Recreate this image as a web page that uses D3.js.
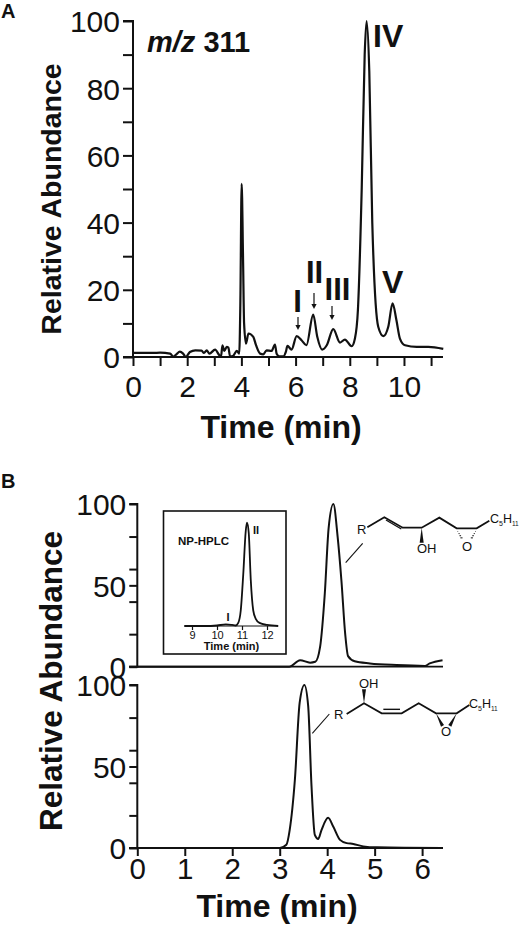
<!DOCTYPE html>
<html><head><meta charset="utf-8">
<script src="https://cdn.jsdelivr.net/npm/d3@7"></script>
<style>html,body{margin:0;padding:0;background:#fff}svg{display:block}text{font-family:"Liberation Sans",Arial,sans-serif;fill:#111}</style>
</head><body><svg id="c" width="519" height="925"></svg>
<script>
// Panel A: m/z 311 chromatogram
const timeA=[0,0.75,1,1.37,1.49,1.6,1.73,1.85,1.95,2.1,2.3,2.53,2.62,2.72,2.82,3.03,3.19,3.25,3.3,3.37,3.46,3.52,3.58,3.7,3.83,3.92,3.96,4.01,4.06,4.1,4.17,4.26,4.44,4.54,4.69,4.81,4.93,5.11,5.24,5.3,5.4,5.55,5.64,5.7,5.85,6.04,6.22,6.4,6.65,6.8,6.98,7.15,7.39,7.64,7.82,8.07,8.19,8.3,8.44,8.55,8.62,8.72,8.83,9.05,9.24,9.42,9.58,9.72,9.85,10.04,10.47,10.9,11.45];
const valueA=[1.2,1.2,1.3,1,0.1,0.8,1.6,1,0,1.5,2,1.9,1.2,2,1,2.2,0.5,0.2,3.5,1.8,3,2.8,0.2,0.4,1.8,1,15,51.5,30,10,4,7,6,3.5,1,0.8,2,1.8,3.7,1,0.2,0.2,1.5,3.3,2.2,6.2,5,3.5,12.6,6,2.2,3.5,8.3,4.3,5.2,3.2,5.5,14,50,90,100,85,40,9,6.2,9,16,11,5.5,3.5,3,3,2.4];
const xTicksA=[0,2,4,6,8,10], xMinorA=[1,3,5,7,9,11], yTicksA=[0,20,40,60,80,100], yMinorA=[10,30,50,70,90];
// Panel B top
const timeB1=[0,3.2,3.43,3.64,3.75,3.85,3.95,4.03,4.13,4.22,4.3,4.38,4.44,4.58,4.9,5.46,6.06,6.16,6.43];
const valueB1=[0,0,4,2.5,3,12,45,85,100,80,53,20,6.5,3.3,2,1,0.5,2,4];
// Panel B bottom
const timeB2=[0,3,3.14,3.21,3.32,3.42,3.52,3.6,3.67,3.74,3.81,3.88,4.02,4.13,4.27,4.41,4.55,4.76,5.05,6.42];
const valueB2=[0,0,2,11,42,89,100,87,38,8,5.5,11,18.5,13,5,3,2.5,1,0.4,0];
const yTicksB=[0,50,100], yMinorB=[20,40,60,80], xTicksB=[0,1,2,3,4,5,6];
// Inset NP-HPLC
const timeI=[8.7,9.5,10,10.35,10.6,10.75,10.85,10.95,11.05,11.15,11.2,11.27,11.35,11.45,11.55,11.7,12,12.45];
const valueI=[0,0,0.5,1.5,1,0.5,3,15,50,92,100,90,45,15,7,3,1,0];
const xTicksI=[9,10,11,12];

const ink="#111";
const svg=d3.select("#c");
const txt=(x,y,s,fs,o={})=>svg.append("text").attr("x",x).attr("y",y).attr("font-size",fs)
  .attr("font-weight",o.w||"normal").attr("text-anchor",o.a||"start").attr("transform",o.t||null).text(s);
const hline=(p,x1,y1,x2,y2,w)=>p.append("line").attr("x1",x1).attr("y1",y1).attr("x2",x2).attr("y2",y2).attr("stroke",ink).attr("stroke-width",w);

function drawAxisY(sy,x,major,minor,fs,len){
  const g=svg.append("g").attr("transform",`translate(${x},0)`);
  const ax=d3.axisLeft(sy).tickValues([...major,...minor].sort(d3.ascending)).tickSize(len).tickPadding(3)
    .tickFormat(d=>major.includes(d)?d:"");
  g.call(ax);
  g.selectAll("path,line").attr("stroke",ink).attr("stroke-width",2);
  g.selectAll("text").attr("font-size",fs).attr("fill",ink).attr("dy","0.36em").style("font-family",'"Liberation Sans"');
  g.select("path").attr("d",`M-${len},${sy.range()[1]}H0V${sy.range()[0]}H-${len}`);
  return g;
}
function drawAxisX(sx,y,all,major,fs,len,w,pad){
  const g=svg.append("g").attr("transform",`translate(0,${y})`);
  const ax=d3.axisBottom(sx).tickValues(all).tickSize(len).tickPadding(pad).tickFormat(d=>major.includes(d)?d:"");
  g.call(ax);
  g.selectAll("path,line").attr("stroke",ink).attr("stroke-width",w);
  g.selectAll("text").attr("font-size",fs).attr("fill",ink).style("font-family",'"Liberation Sans"');
  g.select("path").attr("d",`M${sx.range()[0]},0H${sx.range()[1]}`);
}
function trace(sx,sy,xs,ys,w,curve){
  const l=d3.line().x(i=>sx(xs[i])).y(i=>sy(ys[i])).curve(curve||d3.curveMonotoneX);
  svg.append("path").attr("d",l(d3.range(xs.length))).attr("fill","none").attr("stroke",ink)
    .attr("stroke-width",w).attr("stroke-linejoin","round");
}
// Panel A
const xA=d3.scaleLinear().domain([0,11.44]).range([133,443]);
const yA=d3.scaleLinear().domain([0,100]).range([357,21]);
drawAxisY(yA,133,yTicksA,yMinorA,30,10);
drawAxisX(xA,357,[...xTicksA,...xMinorA].sort(d3.ascending),xTicksA,30,9,2,10);
trace(xA,yA,timeA,valueA,2.2);
txt(0,0,"Relative Abundance",28.5,{w:"bold",a:"middle",t:"translate(61,199) rotate(-90)"});
txt(281,438,"Time (min)",32,{w:"bold",a:"middle"});
txt(1,18,"A",20,{w:"bold"});
const mz=svg.append("text").attr("x",147).attr("y",52).attr("font-size",29).attr("font-weight","bold");
mz.append("tspan").attr("font-style","italic").text("m/z");
mz.append("tspan").text(" 311");
txt(373,47,"IV",32,{w:"bold"});
txt(382,293,"V",32,{w:"bold"});
txt(314.5,283,"II",31,{w:"bold",a:"middle"});
txt(337.5,300,"III",31,{w:"bold",a:"middle"});
txt(297.5,312,"I",31,{w:"bold",a:"middle"});
function arrow(x,y1,y2){
  hline(svg,x,y1,x,y2-3,1.2);
  svg.append("path").attr("d",`M${x-2.6},${y2-5}L${x},${y2}L${x+2.6},${y2-5}Z`).attr("fill",ink);
}
arrow(298,317,330);arrow(314,293,309);arrow(332,306,320);

// Panel B
const xB=d3.scaleLinear().domain([0,6.44]).range([137.3,443]);
const yB1=d3.scaleLinear().domain([0,100]).range([666.7,504]);
const yB2=d3.scaleLinear().domain([0,100]).range([848,685]);
drawAxisY(yB1,137.3,yTicksB,yMinorB,30,8);
drawAxisY(yB2,137.3,yTicksB,yMinorB,30,8);
hline(svg,129,666.7,443,666.7,1.8);
drawAxisX(xB,848,xTicksB,xTicksB,29.5,8,2,2);
hline(svg,129,848,137,848,2);
trace(xB,yB1,timeB1,valueB1,2);
trace(xB,yB2,timeB2,valueB2,2);
txt(0,0,"Relative Abundance",31.5,{w:"bold",a:"middle",t:"translate(62,681) rotate(-90)"});
txt(277,917,"Time (min)",32,{w:"bold",a:"middle"});
txt(1,488,"B",20,{w:"bold"});

// Inset
svg.append("rect").attr("x",163.5).attr("y",511).attr("width",122.5).attr("height",143).attr("fill","#fff").attr("stroke",ink).attr("stroke-width",1.6);
const xI=d3.scaleLinear().domain([8.68,12.44]).range([184,278]);
const yI=d3.scaleLinear().domain([0,100]).range([626,522.7]);
drawAxisX(xI,626,xTicksI,xTicksI,11,4,1.2,1);
trace(xI,yI,timeI,valueI,1.8);
txt(178,545,"NP-HPLC",11.5,{w:"bold"});
txt(253,534,"II",11,{w:"bold"});
txt(226.5,621,"I",11,{w:"bold"});
txt(231.5,650,"Time (min)",11,{w:"bold",a:"middle"});

// Structures
function poly(o,sc,pts,w){svg.append("polyline").attr("points",pts.map(p=>[o[0]+p[0]/sc,o[1]+p[1]/sc].join(",")).join(" ")).attr("fill","none").attr("stroke",ink).attr("stroke-width",w||1.4);}
function wedge(o,sc,pts){svg.append("polygon").attr("points",pts.map(p=>[o[0]+p[0]/sc,o[1]+p[1]/sc].join(",")).join(" ")).attr("fill",ink);}
function formula(x,y){
  const t=svg.append("text").attr("x",x).attr("y",y).attr("font-size",12.5);
  t.append("tspan").text("C");
  t.append("tspan").attr("font-size",7).attr("dy",3).text("5");
  t.append("tspan").attr("dy",-3).text("H");
  t.append("tspan").attr("font-size",6.5).attr("dy",3).text("11");
}
// top structure
const o1=[330,480];
poly(o1,3,[[112,142],[163,112],[218,143],[275,143],[328,113],[380,145],[440,145],[478,122]],1.8);
poly(o1,3,[[168,120],[214,147]],1.4);
poly(o1,3,[[98,190],[47,248]],1.1);
wedge(o1,3,[[275,143],[269,188],[281,188]]);
d3.range(5).forEach(i=>{const f=i/5;
  poly(o1,3,[[380+f*18-4*f,148+f*32],[380+f*18+4*f,148+f*32]],1);
  poly(o1,3,[[440-f*18-4*f,148+f*32],[440-f*18+4*f,148+f*32]],1);
});
txt(357,534,"R",13);
txt(417,553,"OH",13);
txt(462,551,"O",13);
formula(490,523);
// bottom structure
const o2=[280,670];
poly(o2,3,[[200,132],[252,100],[305,130],[365,130],[416,100],[468,130],[530,130],[568,105]],1.8);
poly(o2,3,[[310,118],[360,118]],1.4);
poly(o2,3,[[148,132],[97,190]],1.1);
wedge(o2,3,[[252,100],[246,58],[258,58]]);
wedge(o2,3,[[468,130],[483,170],[492,165]]);
wedge(o2,3,[[530,130],[505,165],[514,170]]);
txt(334,719,"R",13);
txt(359,688,"OH",13);
txt(441,736,"O",13);
formula(469,708);
</script></body></html>
